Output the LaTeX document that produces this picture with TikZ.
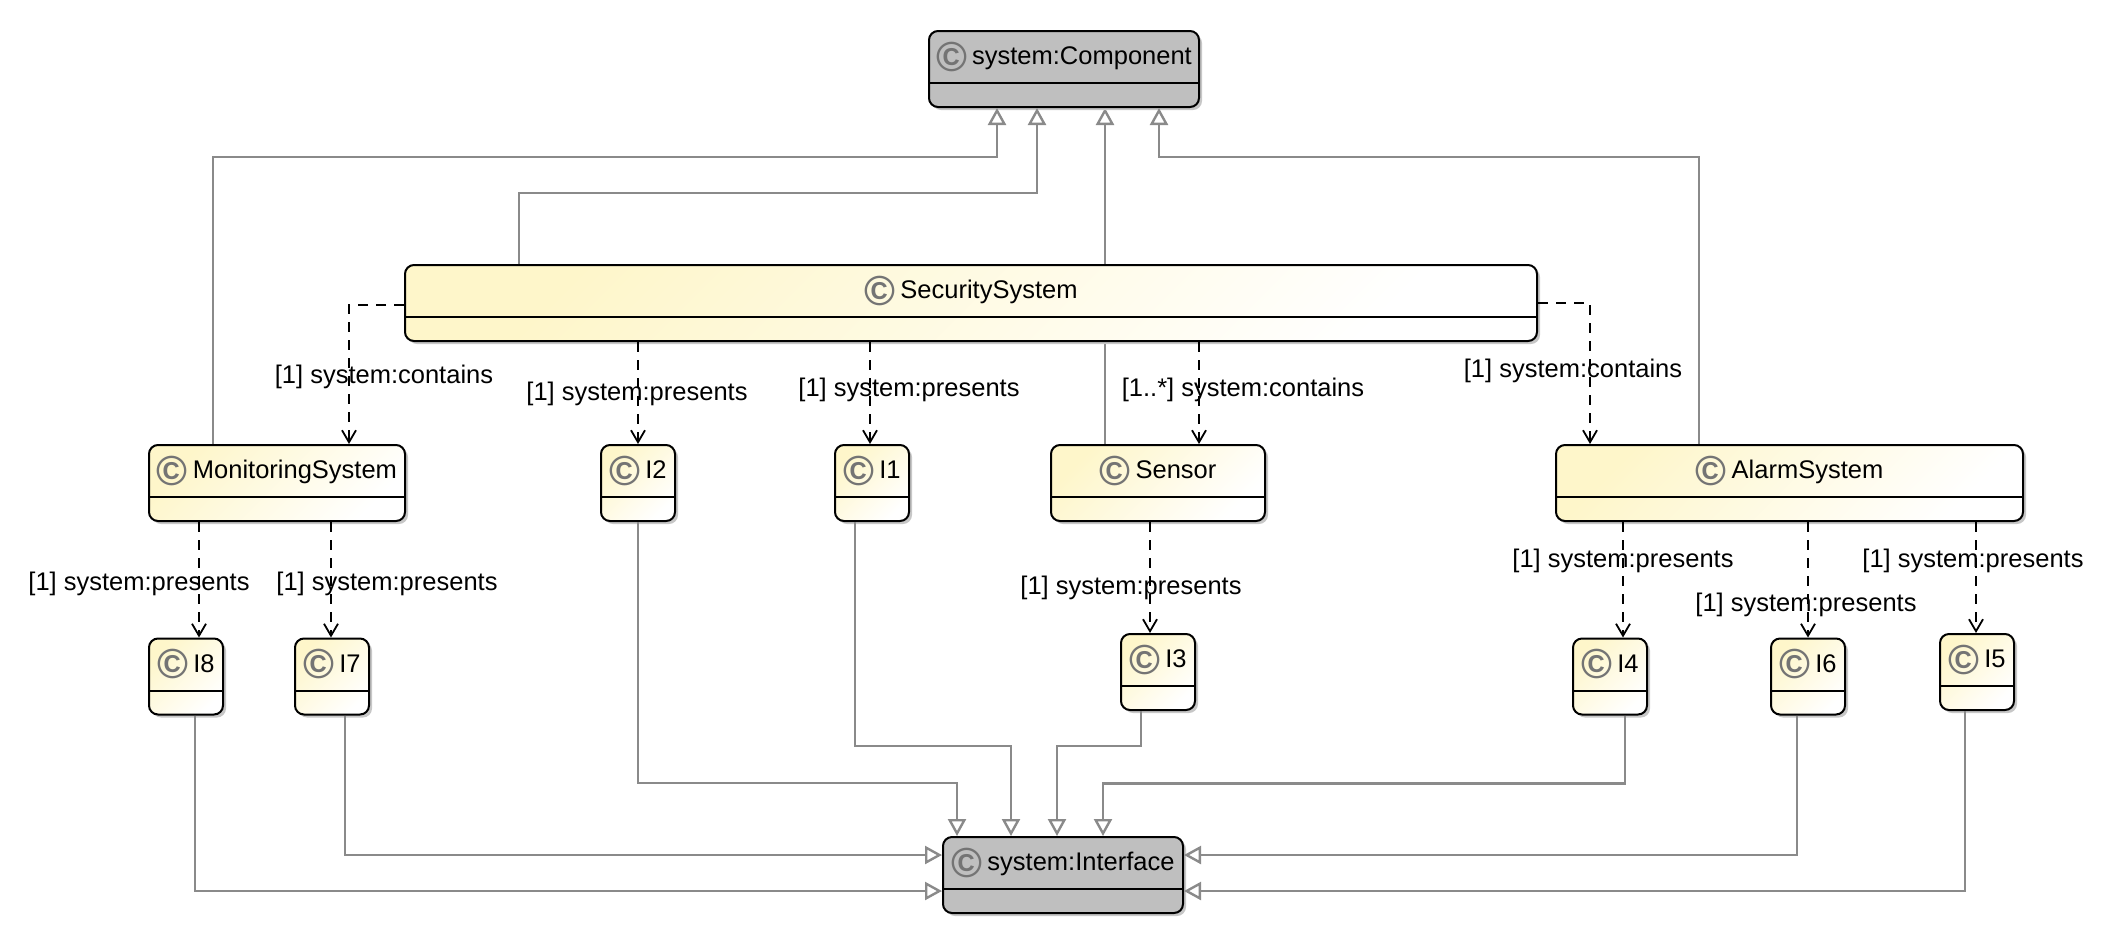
\documentclass[tikz,border=0pt]{standalone}
\usepackage{fontspec}
\setmainfont{Liberation Sans}
\usetikzlibrary{arrows.meta,shadows,backgrounds}

\definecolor{classyellow}{HTML}{FEF6CA}
\definecolor{classgray}{HTML}{BFBFBF}
\definecolor{genlinegray}{HTML}{8A8A8A}
\definecolor{icongray}{HTML}{747474}

\newcommand{\classname}[1]{\raisebox{4.5pt}[0pt][0pt]{{\color{icongray}\fontsize{42}{42}\bfseries\selectfont\raisebox{-6.5pt}{©}}\hspace{5pt}#1}}

\tikzset{
	classbox/.style = {rectangle, draw = black, line width = 2pt, rounded corners = 9pt,
		minimum height = 76pt, inner sep = 0pt, font = \fontsize{25.5}{30}\selectfont,
		drop shadow = {shadow xshift = 3pt, shadow yshift = -3pt, fill = black!22, opacity = 1},
		path picture = {\draw [line width = 2pt] ([yshift = 24pt]path picture bounding box.south west)
			-- ([yshift = 24pt]path picture bounding box.south east);}},
	userclass/.style = {classbox, left color = classyellow, right color = white, shading angle = 45},
	systemclass/.style = {classbox, fill = classgray},
	genline/.style = {genlinegray, line width = 2.4pt,
		-{Triangle[open, fill = white, length = 17pt, width = 18pt]}},
	depline/.style = {black, line width = 2.2pt, dash pattern = on 10pt off 8pt,
		-{Straight Barb[length = 12pt, width = 14pt, line width = 1.8pt]}},
	linklabel/.style = {font = \fontsize{25.5}{30}\selectfont, yshift = -2pt}
}

\begin{document}
\begin{tikzpicture}[x = 1pt, y = -1pt]
	\useasboundingbox (0,0) rectangle (2112,930);

	\node [systemclass, minimum width = 270pt] (component) at (1064,69) {\classname{system:Component}};
	\node [systemclass, minimum width = 240pt] (interface) at (1063,875) {\classname{system:Interface}};

	\node [userclass, minimum width = 1132pt] (security) at (971,303) {\classname{SecuritySystem}};
	\node [userclass, minimum width = 256pt] (monitoring) at (277,483) {\classname{MonitoringSystem}};
	\node [userclass, minimum width = 74pt] (i2) at (638,483) {\classname{I2}};
	\node [userclass, minimum width = 74pt] (i1) at (872,483) {\classname{I1}};
	\node [userclass, minimum width = 214pt] (sensor) at (1158,483) {\classname{Sensor}};
	\node [userclass, minimum width = 467pt] (alarm) at (1789.5,483) {\classname{AlarmSystem}};

	\node [userclass, minimum width = 74pt] (i8) at (186,676.5) {\classname{I8}};
	\node [userclass, minimum width = 74pt] (i7) at (332,676.5) {\classname{I7}};
	\node [userclass, minimum width = 74pt] (i3) at (1158,672) {\classname{I3}};
	\node [userclass, minimum width = 74pt] (i4) at (1610,676.5) {\classname{I4}};
	\node [userclass, minimum width = 74pt] (i6) at (1808,676.5) {\classname{I6}};
	\node [userclass, minimum width = 74pt] (i5) at (1977,672) {\classname{I5}};

	% up to system:Component
	\draw [genline] ([xshift = 65pt]monitoring.north west) -- ++(0,-287) -| ([xshift = 69pt]component.south west);
	\draw [genline] ([xshift = 115pt]security.north west) -- ++(0,-71) -| ([xshift = 109pt]component.south west);
	\begin{scope}[on background layer]
		\draw [genline] ([xshift = 55pt]sensor.north west) -- ([xshift = 177pt]component.south west);
	\end{scope}
	\draw [genline] ([xshift = 144pt]alarm.north west) -- ++(0,-287) -| ([xshift = 231pt]component.south west);

	% down to system:Interface
	\draw [genline] (i2.south) -- ++(0,261) -| ([xshift = 15pt]interface.north west);
	\draw [genline] ([xshift = 21pt]i1.south west) -- ++(0,224) -| ([xshift = 69pt]interface.north west);
	\draw [genline] ([xshift = 21pt]i3.south west) -- ++(0,35) -| ([xshift = 115pt]interface.north west);
	\draw [genline] ([xshift = 53pt]i4.south west) -- ++(0,68) -| ([xshift = 161pt]interface.north west);
	\draw [genline] ([xshift = 51pt]i7.south west) |- ([yshift = -19pt]interface.north west);
	\draw [genline] ([xshift = 47pt]i8.south west) |- ([yshift = -55pt]interface.north west);
	\draw [genline] ([xshift = 27pt]i6.south west) |- ([yshift = -19pt]interface.north east);
	\draw [genline] ([xshift = 26pt]i5.south west) |- ([yshift = -55pt]interface.north east);

	% dashed links
	\draw [depline] ([yshift = -41pt]security.north west) -| ([xshift = 201pt]monitoring.north west);
	\draw [depline] (security.south -| i2.north) -- (i2.north);
	\draw [depline] ([xshift = 466pt]security.south west) -- ([xshift = 36pt]i1.north west);
	\draw [depline] ([xshift = 795pt]security.south west) -- ([xshift = 149pt]sensor.north west);
	\draw [depline] ([yshift = -39pt]security.north east) -| ([xshift = 35pt]alarm.north west);
	\draw [depline] ([xshift = 51pt]monitoring.south west) -- ([xshift = 51pt]i8.north west);
	\draw [depline] ([xshift = 183pt]monitoring.south west) -- ([xshift = 37pt]i7.north west);
	\draw [depline] ([xshift = 100pt]sensor.south west) -- ([xshift = 30pt]i3.north west);
	\draw [depline] ([xshift = 68pt]alarm.south west) -- ([xshift = 51pt]i4.north west);
	\draw [depline] ([xshift = 253pt]alarm.south west) -- ([xshift = 38pt]i6.north west);
	\draw [depline] ([xshift = 421pt]alarm.south west) -- ([xshift = 37pt]i5.north west);

	% link labels
	\node [linklabel] (l1) at (384,375) {[1] system:contains};
	\node [linklabel] (l2) at (637,392) {[1] system:presents};
	\node [linklabel] (l3) at (909,388) {[1] system:presents};
	\node [linklabel] (l4) at (1243,388) {[1..*] system:contains};
	\node [linklabel] (l5) at (1573,369) {[1] system:contains};
	\node [linklabel] (l6) at (139,582) {[1] system:presents};
	\node [linklabel] (l7) at (387,582) {[1] system:presents};
	\node [linklabel] (l8) at (1131,586) {[1] system:presents};
	\node [linklabel] (l9) at (1623,559) {[1] system:presents};
	\node [linklabel] (l10) at (1806,603) {[1] system:presents};
	\node [linklabel] (l11) at (1973,559) {[1] system:presents};
\end{tikzpicture}
\end{document}
